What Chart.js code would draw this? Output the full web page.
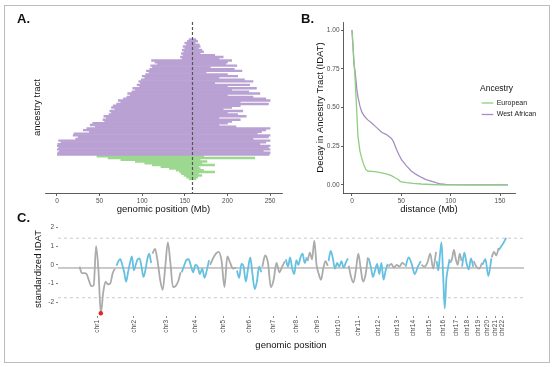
<!DOCTYPE html>
<html><head><meta charset="utf-8">
<script src="https://cdn.jsdelivr.net/npm/chart.js@4.4.0/dist/chart.umd.min.js"></script>
<style>
html,body{margin:0;padding:0;background:#fff;}
body{width:556px;height:367px;position:relative;overflow:hidden;font-family:'Liberation Sans',Arial,sans-serif;}
.frame{position:absolute;left:4px;top:5px;width:544px;height:356px;border:1px solid #bdbdbd;}
canvas{position:absolute;}
.tag{position:absolute;font-weight:bold;font-size:13px;line-height:13px;color:#111;}
</style></head>
<body>
<div class="frame"></div>
<canvas id="ca" width="290" height="216" style="left:0;top:0"></canvas>
<canvas id="cb" width="266" height="216" style="left:290px;top:0"></canvas>
<canvas id="cc" width="556" height="148" style="left:0;top:214px"></canvas>
<div class="tag" style="left:17px;top:12px">A.</div>
<div class="tag" style="left:301px;top:12px">B.</div>
<div class="tag" style="left:17px;top:211px">C.</div>
<script>
// ---------- Panel A data: ancestry tracts (Mb), top to bottom ----------
const westAfricanStart = [155,153,150,152,148,150,147,149,146,148,145,147,111,115,118,110,112,109,105,108,104,100,103,99,96,98,94,97,89,92,88,83,86,82,78,72,75,70,66,64,68,62,64,61,55,58,54,56,42,39,45,35,31,38,20,19,25,22,2,5,1,0,2,0,3,1,0];
const westAfricanEnd   = [163,165,162,167,168,166,170,172,168,185,195,190,205,200,198,211,180,208,217,175,200,212,190,220,230,185,226,200,234,205,225,238,200,230,245,250,215,248,215,205,195,218,200,212,222,190,215,205,200,190,210,250,245,240,235,250,248,230,250,245,238,250,248,250,242,250,249];
const europeanStart = [47,60,75,92,103,112,122,132,140,144,146,149,152,155];
const europeanEnd   = [172,232,168,176,170,185,166,168,172,185,166,170,165,163];
const junctionMb = [159];
const aTicks = [0,50,100,150,200,250];

// ---------- Panel B data: decay in ancestry tract ----------
const euroDist  = [0,1,2,3,4,5,6,7,8,10,12,14,16,20,25,30,35,40,44,47,49,55,62,70,80,90,100,158];
const euroDecay = [1.0,0.9,0.8,0.7,0.58,0.45,0.32,0.27,0.22,0.17,0.13,0.1,0.09,0.088,0.085,0.078,0.072,0.06,0.045,0.035,0.022,0.015,0.01,0.006,0.003,0.001,0,0];
const westDist  = [0,1,2,3,4,5,6,8,10,13,16,20,25,30,35,40,42,45,48,50,55,60,65,70,75,80,85,90,95,100,120,158];
const westDecay = [1.0,0.9,0.78,0.74,0.68,0.61,0.57,0.51,0.47,0.44,0.42,0.40,0.37,0.34,0.325,0.30,0.28,0.23,0.19,0.165,0.125,0.09,0.068,0.05,0.035,0.025,0.015,0.006,0.003,0.002,0.001,0];
const bXTicks = [0,50,100,150];
const bYTicks = [0,0.25,0.5,0.75,1];
const legendTitle = 'Ancestry';
const legendLabels = ['European','West African'];

// ---------- Panel C data: standardized IDAT by chromosome ----------
const chromNames = ['chr1','chr2','chr3','chr4','chr5','chr6','chr7','chr8','chr9','chr10','chr11','chr12','chr13','chr14','chr15','chr16','chr17','chr18','chr19','chr20','chr21','chr22'];
const chromLenMb = [249.25,243.2,198.0,191.15,180.9,171.1,159.1,146.4,141.2,135.5,135.0,133.85,115.2,107.35,102.5,90.35,81.2,78.1,59.1,63.0,48.1,51.3];
const idat = [
  [-0.1,-0.45,-0.45,-0.5,-0.85,-1.15,-1.1,1.0,-0.3,-2.6,-1.5,-0.9,-1.05,-1.0,-0.45,-0.2],
  [-0.05,0.2,0.3,0.0,-0.4,-0.9,-0.4,0.1,0.45,-0.3,0.0,0.3,0.35,-0.1,-0.65,-0.3,0.3,0.6,0.1],
  [0.6,0.85,0.2,-0.8,-1.35,-0.1,1.2,0.1,-1.2,-1.15,-0.9,-0.4],
  [-0.4,-0.05,0.25,0.3,-0.05,-0.4,0.0,-0.1,-0.5,-0.2,-0.7,-0.3,0.25],
  [0.0,0.35,0.6,0.7,0.2,-1.2,0.45,0.1,-0.2,-0.15],
  [-0.3,-0.7,0.05,-0.1,-0.9,-0.2,0.4,-0.5,-1.3,-0.9,-0.1,-0.4],
  [-0.1,0.5,0.1,-1.2,-0.8,0.1,-0.4,-0.1,0.2],
  [0.3,-0.1,0.4,-0.2,-0.5,0.25,0.0,0.4,0.6,0.1,0.4],
  [0.2,0.65,0.3,1.3,0.0,-0.5,-0.8,-0.2,0.2,-0.05],
  [0.2,0.75,0.35,-0.2,0.1,-0.1,0.2,-0.15,0.1,0.35],
  [-0.05,-0.65,-0.95,-0.3,0.6,-0.2,-0.9,-0.55,0.4],
  [0.35,-0.1,-0.65,-0.3,0.05,-0.5,0.1,-0.8,-0.3,0.05],
  [-0.1,0.05,-0.15,0.0,-0.1,0.1,0.0],
  [-0.1,0.4,0.05,-0.5,-0.1,0.2],
  [0.0,-0.1,0.1,0.6,-0.2,0.7],
  [0.2,-0.3,0.5,1.2,-0.5,-2.35,-0.8,-0.2,0.3],
  [0.1,0.3,0.8,0.3,0.0,0.6,0.2],
  [-0.1,0.65,0.1,-0.25,0.35,-0.1],
  [0.2,-0.1,-0.2,0.1],
  [0.0,0.3,-0.6,0.35],
  [0.4,0.7,0.5,0.9],
  [0.8,1.0,1.2,1.45]
];
const cYTicks = [-2,-1,0,1,2];
const refLevels = [1.43,-0.17,-1.77];

// ---------- common ----------
const FONT = "'Liberation Sans', Arial, sans-serif";
Chart.defaults.font.family = FONT;
Chart.defaults.color = '#4d4d4d';
const TICKC = '#4d4d4d', AXISC = '#333333';
const TITLEF = {size:9.5, family:FONT};
const TICKF = {size:6.5, family:FONT};
const noPlug = {legend:{display:false}, tooltip:{enabled:false}};

// ---------- Panel A ----------
const purpleData = westAfricanStart.map((s,i)=>({x:[s, westAfricanEnd[i]], y:i}));
const greenData = europeanStart.map((s,i)=>({x:[s, europeanEnd[i]], y:westAfricanStart.length+i}));
new Chart(document.getElementById('ca'), {
  type:'bar',
  data:{datasets:[
    {data:purpleData, backgroundColor:'#b9a1d3', barPercentage:1, categoryPercentage:1, grouped:false, borderWidth:0},
    {data:greenData, backgroundColor:'#9dd891', barPercentage:1, categoryPercentage:1, grouped:false, borderWidth:0}
  ]},
  options:{
    indexAxis:'y', responsive:false, animation:false, plugins:noPlug,
    layout:{padding:{left:0,right:8,top:22,bottom:0}},
    scales:{
      x:{type:'linear', min:-14, max:264,
        afterBuildTicks:s=>{s.ticks = aTicks.map(v=>({value:v}));},
        afterFit:s=>{s.height = 23;},
        ticks:{font:TICKF, color:TICKC, padding:1, maxRotation:0, autoSkip:false},
        grid:{drawOnChartArea:false, drawTicks:true, tickLength:3, color:AXISC, lineWidth:0.8},
        border:{display:true, color:AXISC, width:0.8},
        title:{display:true, text:'genomic position (Mb)', font:TITLEF, color:'#111', padding:{top:0,bottom:1.3}}
      },
      y:{type:'linear', min:-4.6, max:82.6, reverse:true,
        afterFit:s=>{s.width = 45;},
        ticks:{display:false},
        grid:{display:false},
        border:{display:false},
        title:{display:true, text:'ancestry tract', font:TITLEF, color:'#111', padding:{top:31.8,bottom:0}}
      }
    }
  },
  plugins:[{id:'junction', afterDatasetsDraw(chart){
    const ctx = chart.ctx, a = chart.chartArea;
    junctionMb.forEach(v=>{
      const x = chart.scales.x.getPixelForValue(v);
      ctx.save(); ctx.setLineDash([3,2]); ctx.strokeStyle='#555'; ctx.lineWidth=1.2;
      ctx.beginPath(); ctx.moveTo(x,a.top); ctx.lineTo(x,a.bottom); ctx.stroke(); ctx.restore();
    });
  }}]
});

// ---------- Panel B ----------
new Chart(document.getElementById('cb'), {
  type:'line',
  data:{datasets:[
    {label:legendLabels[0], data:euroDist.map((d,i)=>({x:d,y:euroDecay[i]})), borderColor:'#8fce80', borderWidth:1.3, pointRadius:0, tension:0},
    {label:legendLabels[1], data:westDist.map((d,i)=>({x:d,y:westDecay[i]})), borderColor:'#a58fc3', borderWidth:1.3, pointRadius:0, tension:0}
  ]},
  options:{
    responsive:false, animation:false, plugins:noPlug,
    layout:{padding:{left:0,right:41,top:22,bottom:0}},
    scales:{
      x:{type:'linear', min:-9.1, max:165.2,
        afterBuildTicks:s=>{s.ticks = bXTicks.map(v=>({value:v}));},
        afterFit:s=>{s.height = 23;},
        ticks:{font:TICKF, color:TICKC, padding:1, maxRotation:0, autoSkip:false},
        grid:{drawOnChartArea:false, drawTicks:true, tickLength:3, color:AXISC, lineWidth:0.8},
        border:{display:true, color:AXISC, width:0.8},
        title:{display:true, text:'distance (Mb)', font:TITLEF, color:'#111', padding:{top:0,bottom:1.3}}
      },
      y:{type:'linear', min:-0.052, max:1.052,
        afterBuildTicks:s=>{s.ticks = bYTicks.map(v=>({value:v}));},
        afterFit:s=>{s.width = 53;},
        ticks:{font:TICKF, color:TICKC, padding:1.5, callback:v=>Number(v).toFixed(2)},
        grid:{drawOnChartArea:false, drawTicks:true, tickLength:2, color:AXISC, lineWidth:0.8},
        border:{display:true, color:AXISC, width:0.8},
        title:{display:true, text:'Decay in Ancestry Tract (IDAT)', font:TITLEF, color:'#111', padding:{top:24.8,bottom:0}}
      }
    }
  },
  plugins:[{id:'insideLegend', afterDraw(chart){
    const ctx = chart.ctx, a = chart.chartArea;
    const x0 = a.left + 137, y0 = a.top + 67;
    ctx.save();
    ctx.textBaseline = 'middle'; ctx.textAlign = 'left';
    ctx.fillStyle = '#111'; ctx.font = "8.5px " + FONT;
    ctx.fillText(legendTitle, x0, y0);
    ctx.font = "7px " + FONT; 
    chart.data.datasets.forEach((ds,i)=>{
      const y = y0 + 14 + i*11.5;
      ctx.strokeStyle = ds.borderColor; ctx.lineWidth = 1.3;
      ctx.beginPath(); ctx.moveTo(x0+1.7, y); ctx.lineTo(x0+13.3, y); ctx.stroke();
      ctx.fillStyle = '#222'; ctx.fillText(ds.label, x0+16.7, y);
    });
    ctx.restore();
  }}]
});

// ---------- Panel C ----------
const chromStart = [];
chromLenMb.reduce((acc,l,i)=>{chromStart[i]=acc; return acc+l;},0);
const chromMid = chromLenMb.map((l,i)=>chromStart[i]+l/2);
let globalMin = Infinity;
idat.forEach(arr=>arr.forEach(v=>{ if(v<globalMin) globalMin=v; }));
const cDatasets = idat.map((vals,c)=>{
  const L = chromLenMb[c], s = chromStart[c], n = vals.length;
  const col = c%2===0 ? '#ababab' : '#66c0e2';
  return {
    data: vals.map((v,i)=>({x: s + L*0.02 + (n>1 ? i*(L*0.96)/(n-1) : L*0.48), y: v})),
    borderColor: col, borderWidth: 1.8, cubicInterpolationMode:'monotone',
    pointRadius: ctx=> (ctx.raw && ctx.raw.y===globalMin) ? 2.2 : 0,
    pointBackgroundColor: '#e0261f', pointBorderWidth: 0
  };
});
new Chart(document.getElementById('cc'), {
  type:'line',
  data:{datasets:cDatasets},
  options:{
    responsive:false, animation:false, plugins:noPlug,
    layout:{padding:{left:0,right:32,top:8,bottom:0}},
    scales:{
      x:{type:'linear', min:-140, max:3000,
        afterBuildTicks:s=>{s.ticks = chromMid.map(v=>({value:v}));},
        afterFit:s=>{s.height = 46;},
        ticks:{font:TICKF, color:TICKC, padding:2, minRotation:90, maxRotation:90, autoSkip:false,
          callback:(v,i)=>chromNames[i]},
        grid:{drawOnChartArea:false, drawTicks:true, tickLength:2, color:'#555', lineWidth:0.7},
        border:{display:false},
        title:{display:true, text:'genomic position', font:TITLEF, color:'#111', padding:{top:0,bottom:11.3}}
      },
      y:{type:'linear', min:-2.75, max:2.3,
        afterBuildTicks:s=>{s.ticks = cYTicks.map(v=>({value:v}));},
        afterFit:s=>{s.width = 58;},
        ticks:{font:TICKF, color:TICKC, padding:2},
        grid:{drawOnChartArea:false, drawTicks:true, tickLength:2, color:'#555', lineWidth:0.7},
        border:{display:false},
        title:{display:true, text:'standardized IDAT', font:TITLEF, color:'#111', padding:{top:32.3,bottom:0}}
      }
    }
  },
  plugins:[{id:'refLines', beforeDatasetsDraw(chart){
    const ctx = chart.ctx, a = chart.chartArea, ys = chart.scales.y;
    ctx.save();
    refLevels.forEach((v,i)=>{
      const y = ys.getPixelForValue(v);
      if (i===1) { ctx.setLineDash([]); ctx.strokeStyle='#8a8a8a'; ctx.lineWidth=0.9; }
      else { ctx.setLineDash([3,3]); ctx.strokeStyle='#c4c4c4'; ctx.lineWidth=0.9; }
      ctx.beginPath(); ctx.moveTo(a.left,y); ctx.lineTo(a.right,y); ctx.stroke();
    });
    ctx.restore();
  }}]
});
</script>
</body></html>
